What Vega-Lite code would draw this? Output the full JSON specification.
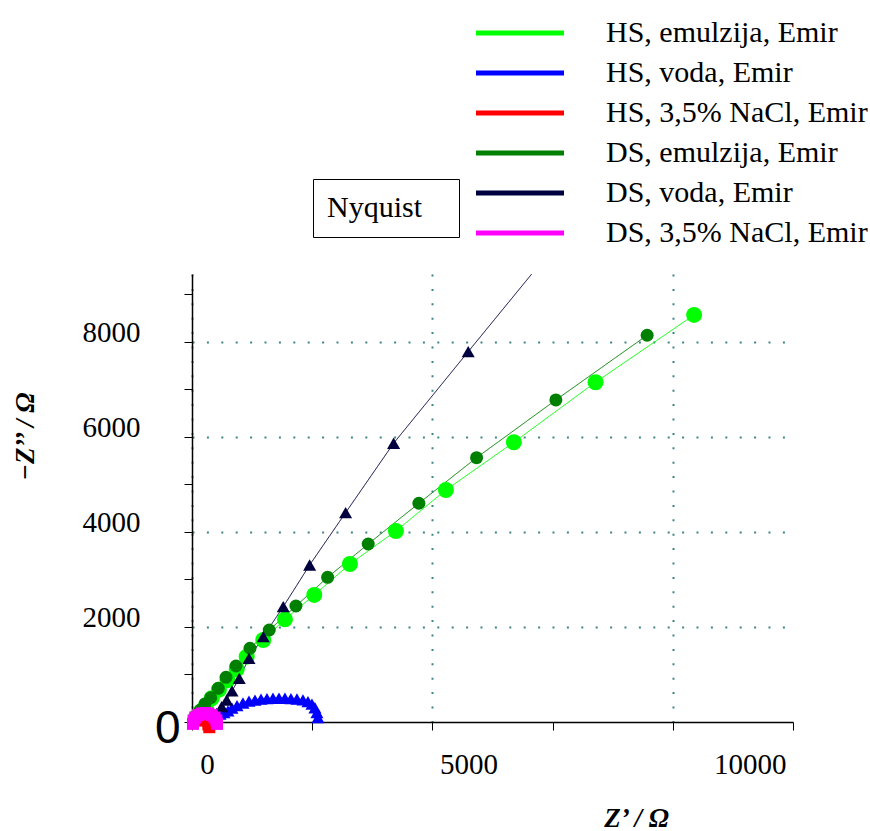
{
  "$schema": "https://vega.github.io/schema/vega-lite/v6.json",
  "width": 601,
  "height": 448,
  "autosize": {"type": "none"},
  "padding": {"left": 192, "top": 274, "right": 77, "bottom": 109},
  "background": "white",
  "config": {"view": {"stroke": null}, "font": "Liberation Serif"},
  "data": {"values": [
    {"s": "HS, emulzija, Emir", "x": 90, "y": 110},
    {"s": "HS, emulzija, Emir", "x": 180, "y": 220},
    {"s": "HS, emulzija, Emir", "x": 290, "y": 350},
    {"s": "HS, emulzija, Emir", "x": 410, "y": 500},
    {"s": "HS, emulzija, Emir", "x": 560, "y": 680},
    {"s": "HS, emulzija, Emir", "x": 740, "y": 880},
    {"s": "HS, emulzija, Emir", "x": 930, "y": 1110},
    {"s": "HS, emulzija, Emir", "x": 1137, "y": 1375},
    {"s": "HS, emulzija, Emir", "x": 1482, "y": 1726},
    {"s": "HS, emulzija, Emir", "x": 1933, "y": 2162},
    {"s": "HS, emulzija, Emir", "x": 2543, "y": 2674},
    {"s": "HS, emulzija, Emir", "x": 3285, "y": 3326},
    {"s": "HS, emulzija, Emir", "x": 4241, "y": 4021},
    {"s": "HS, emulzija, Emir", "x": 5281, "y": 4884},
    {"s": "HS, emulzija, Emir", "x": 6694, "y": 5888},
    {"s": "HS, emulzija, Emir", "x": 8393, "y": 7152},
    {"s": "HS, emulzija, Emir", "x": 10443, "y": 8568},
    {"s": "HS, voda, Emir", "x": 480, "y": 126},
    {"s": "HS, voda, Emir", "x": 582, "y": 168},
    {"s": "HS, voda, Emir", "x": 665, "y": 200},
    {"s": "HS, voda, Emir", "x": 748, "y": 232},
    {"s": "HS, voda, Emir", "x": 832, "y": 290},
    {"s": "HS, voda, Emir", "x": 936, "y": 345},
    {"s": "HS, voda, Emir", "x": 1060, "y": 400},
    {"s": "HS, voda, Emir", "x": 1185, "y": 440},
    {"s": "HS, voda, Emir", "x": 1310, "y": 462},
    {"s": "HS, voda, Emir", "x": 1435, "y": 480},
    {"s": "HS, voda, Emir", "x": 1559, "y": 492},
    {"s": "HS, voda, Emir", "x": 1684, "y": 500},
    {"s": "HS, voda, Emir", "x": 1809, "y": 502},
    {"s": "HS, voda, Emir", "x": 1933, "y": 500},
    {"s": "HS, voda, Emir", "x": 2058, "y": 494},
    {"s": "HS, voda, Emir", "x": 2183, "y": 484},
    {"s": "HS, voda, Emir", "x": 2308, "y": 465},
    {"s": "HS, voda, Emir", "x": 2412, "y": 430},
    {"s": "HS, voda, Emir", "x": 2495, "y": 375},
    {"s": "HS, voda, Emir", "x": 2557, "y": 300},
    {"s": "HS, voda, Emir", "x": 2599, "y": 200},
    {"s": "HS, voda, Emir", "x": 2620, "y": 95},
    {"s": "HS, 3,5% NaCl, Emir", "x": 120, "y": 30},
    {"s": "HS, 3,5% NaCl, Emir", "x": 220, "y": 60},
    {"s": "HS, 3,5% NaCl, Emir", "x": 300, "y": 40},
    {"s": "HS, 3,5% NaCl, Emir", "x": 340, "y": -50},
    {"s": "HS, 3,5% NaCl, Emir", "x": 360, "y": -110},
    {"s": "DS, emulzija, Emir", "x": 90, "y": 120},
    {"s": "DS, emulzija, Emir", "x": 175, "y": 250},
    {"s": "DS, emulzija, Emir", "x": 270, "y": 380},
    {"s": "DS, emulzija, Emir", "x": 389, "y": 510},
    {"s": "DS, emulzija, Emir", "x": 547, "y": 709},
    {"s": "DS, emulzija, Emir", "x": 707, "y": 941},
    {"s": "DS, emulzija, Emir", "x": 915, "y": 1179},
    {"s": "DS, emulzija, Emir", "x": 1206, "y": 1552},
    {"s": "DS, emulzija, Emir", "x": 1607, "y": 1937},
    {"s": "DS, emulzija, Emir", "x": 2162, "y": 2442},
    {"s": "DS, emulzija, Emir", "x": 2821, "y": 3046},
    {"s": "DS, emulzija, Emir", "x": 3665, "y": 3747},
    {"s": "DS, emulzija, Emir", "x": 4719, "y": 4604},
    {"s": "DS, emulzija, Emir", "x": 5919, "y": 5564},
    {"s": "DS, emulzija, Emir", "x": 7568, "y": 6779},
    {"s": "DS, emulzija, Emir", "x": 9466, "y": 8141},
    {"s": "DS, voda, Emir", "x": 395, "y": 63},
    {"s": "DS, voda, Emir", "x": 514, "y": 183},
    {"s": "DS, voda, Emir", "x": 617, "y": 322},
    {"s": "DS, voda, Emir", "x": 721, "y": 463},
    {"s": "DS, voda, Emir", "x": 832, "y": 653},
    {"s": "DS, voda, Emir", "x": 983, "y": 920},
    {"s": "DS, voda, Emir", "x": 1185, "y": 1341},
    {"s": "DS, voda, Emir", "x": 1482, "y": 1796},
    {"s": "DS, voda, Emir", "x": 1898, "y": 2427},
    {"s": "DS, voda, Emir", "x": 2447, "y": 3305},
    {"s": "DS, voda, Emir", "x": 3195, "y": 4406},
    {"s": "DS, voda, Emir", "x": 4193, "y": 5867},
    {"s": "DS, voda, Emir", "x": 5745, "y": 7796},
    {"s": "DS, voda, Emir", "x": 7850, "y": 10400},
    {"s": "DS, 3,5% NaCl, Emir", "x": 20, "y": -40},
    {"s": "DS, 3,5% NaCl, Emir", "x": 32, "y": 30},
    {"s": "DS, 3,5% NaCl, Emir", "x": 70, "y": 95},
    {"s": "DS, 3,5% NaCl, Emir", "x": 130, "y": 145},
    {"s": "DS, 3,5% NaCl, Emir", "x": 200, "y": 178},
    {"s": "DS, 3,5% NaCl, Emir", "x": 270, "y": 190},
    {"s": "DS, 3,5% NaCl, Emir", "x": 340, "y": 178},
    {"s": "DS, 3,5% NaCl, Emir", "x": 410, "y": 145},
    {"s": "DS, 3,5% NaCl, Emir", "x": 470, "y": 95},
    {"s": "DS, 3,5% NaCl, Emir", "x": 508, "y": 30},
    {"s": "DS, 3,5% NaCl, Emir", "x": 520, "y": -40}
  ]},
  "encoding": {
    "x": {
      "field": "x", "type": "quantitative",
      "scale": {"domain": [0, 12500], "nice": false, "zero": false},
      "axis": {
        "values": [0, 2500, 5000, 7500, 10000, 12500],
        "format": "d",
        "labelExpr": "datum.value % 5000 == 0 ? datum.label : ''",
        "labelOffset": {"condition": [{"test": "datum.value == 0", "value": 15}, {"test": "datum.value == 5000", "value": 36}], "value": 77},
        "labelFont": "Liberation Serif", "labelFontSize": 29, "labelColor": "black",
        "labelPadding": 20, "labelFlush": false, "labelOverlap": false,
        "tickSize": 8, "tickColor": "black", "domainColor": "black", "domainWidth": 1.5,
        "grid": true, "gridColor": "#3f8585", "gridDash": [2, 12.4], "gridWidth": 2,
        "gridOpacity": {"condition": {"test": "datum.value % 5000 == 0", "value": 1}, "value": 0},
        "title": "Z’ / Ω", "titleFont": "Liberation Serif", "titleFontSize": 27,
        "titleFontWeight": "bold", "titleFontStyle": "italic", "titleColor": "black",
        "titleX": 444, "titleY": 96, "titleBaseline": "middle", "titleAlign": "center"
      }
    },
    "y": {
      "field": "y", "type": "quantitative",
      "scale": {"domain": [0, 9430], "nice": false, "zero": false},
      "axis": {
        "values": [0, 1000, 2000, 3000, 4000, 5000, 6000, 7000, 8000, 9000],
        "format": "d",
        "labelExpr": "datum.value % 2000 == 0 ? datum.label : ''",
        "labelFont": {"condition": {"test": "datum.value == 0", "value": "Liberation Sans"}, "value": "Liberation Serif"},
        "labelFontSize": {"condition": {"test": "datum.value == 0", "value": 46}, "value": 29},
        "labelPadding": {"condition": {"test": "datum.value == 0", "value": 4}, "value": 44},
        "labelOffset": {"condition": {"test": "datum.value == 0", "value": 6}, "value": -9},
        "labelBaseline": "middle", "labelColor": "black", "labelFlush": false, "labelOverlap": false,
        "tickSize": 8, "tickColor": "black", "domainColor": "black", "domainWidth": 1.5,
        "grid": true, "gridColor": "#3f8585", "gridDash": [2, 12.4], "gridWidth": 2,
        "gridOpacity": {"condition": {"test": "datum.value % 2000 == 0 && datum.value > 0", "value": 1}, "value": 0},
        "title": "−Z’’ / Ω", "titleFont": "Liberation Serif", "titleFontSize": 27,
        "titleFontWeight": "bold", "titleFontStyle": "italic", "titleColor": "black",
        "titleX": -167, "titleY": 162, "titleBaseline": "middle", "titleAlign": "center", "titleAngle": -90
      }
    },
    "color": {
      "field": "s", "type": "nominal",
      "scale": {
        "domain": ["HS, emulzija, Emir", "HS, voda, Emir", "HS, 3,5% NaCl, Emir", "DS, emulzija, Emir", "DS, voda, Emir", "DS, 3,5% NaCl, Emir"],
        "range": ["#00ff00", "#0000ff", "#ff0000", "#008000", "#00003f", "#ff00ff"]
      },
      "legend": {
        "orient": "none", "legendX": 313, "legendY": -256, "title": null, "padding": 0,
        "symbolType": "M-4,0L4,0", "symbolStrokeWidth": 5, "symbolSize": 484,
        "labelFont": "Liberation Serif", "labelFontSize": 30, "labelColor": "black",
        "labelOffset": 71, "labelLimit": 400, "rowPadding": 10
      }
    }
  },
  "layer": [
    {
      "data": {"values": [{}]},
      "mark": {"type": "rule", "color": "black", "strokeWidth": 1.5},
      "encoding": {
        "x": {"datum": 0},
        "x2": {"datum": 8150},
        "y": {"datum": 9430},
        "color": {"value": "black"}
      }
    },
    {
      "mark": {"type": "line", "strokeWidth": 1, "clip": true},
      "encoding": {
        "strokeDash": {
          "datum": "Nyquist",
          "scale": {"range": [[1, 0]]},
          "legend": {
            "orient": "none", "legendX": 121, "legendY": -95,
            "title": "Nyquist", "titleOrient": "left", "titlePadding": 0,
            "titleAnchor": "start", "titleBaseline": "top",
            "titleFont": "Liberation Serif", "titleFontSize": 30, "titleFontWeight": "normal", "titleColor": "black",
            "strokeColor": "black", "fillColor": "white", "padding": 14,
            "symbolOpacity": 0, "symbolSize": 484, "symbolStrokeWidth": 0,
            "labelOffset": 0, "labelExpr": "''"
          }
        }
      }
    },
    {
      "transform": [{"filter": "indexof(datum.s, 'emulzija') >= 0"}],
      "mark": {"type": "point", "shape": "circle", "filled": true, "opacity": 1},
      "encoding": {
        "size": {
          "field": "s", "type": "ordinal",
          "scale": {"domain": ["HS, emulzija, Emir", "DS, emulzija, Emir"], "range": [256, 169]},
          "legend": null
        }
      }
    },
    {
      "transform": [{"filter": "indexof(datum.s, 'voda') >= 0 && datum.y < 9430"}],
      "mark": {"type": "point", "shape": "triangle-up", "filled": true, "opacity": 1, "size": 170}
    },
    {
      "transform": [{"filter": "indexof(datum.s, 'NaCl') >= 0"}],
      "mark": {"type": "point", "shape": "square", "filled": true, "opacity": 1, "size": 144}
    }
  ]
}
